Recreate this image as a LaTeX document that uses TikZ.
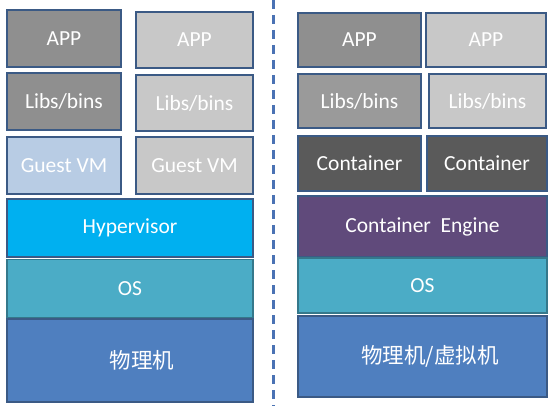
\documentclass[tikz,border=0pt]{standalone}
\usepackage{fontspec}
\setmainfont{Carlito}
\newfontfamily\cjk{Noto Sans CJK SC}
\definecolor{bordc}{HTML}{3B5A85}
\definecolor{appdark}{HTML}{8F8F8F}
\definecolor{applight}{HTML}{C8C8C8}
\definecolor{vmblue}{HTML}{B8CCE4}
\definecolor{contc}{HTML}{5A5A5A}
\definecolor{enginec}{HTML}{604A7B}
\definecolor{hypc}{HTML}{00B0F0}
\definecolor{osc}{HTML}{4BACC6}
\definecolor{hwc}{HTML}{4F7FBF}
\definecolor{dashc}{HTML}{4A72B4}
\tikzset{
  layer/.style={draw=bordc, line width=1.6pt, text=white, inner sep=0pt,
    font=\fontsize{21.5}{24}\selectfont},
  bigl/.style={layer, line width=1.1pt},
}
\begin{document}
\begin{tikzpicture}[x=1pt,y=-1pt]
\useasboundingbox[fill=white] (0,0) rectangle (554,406);
% left stack
\node[layer, fill=appdark, minimum width=114, minimum height=57] (appL1) at (64,38.5) {APP};
\node[layer, fill=applight, minimum width=117, minimum height=56] (appL2) at (194.5,40) {APP};
\node[layer, fill=appdark, minimum width=114, minimum height=57] (libL1) at (64,101.5) {Libs/bins};
\node[layer, fill=applight, minimum width=117, minimum height=56] (libL2) at (194.5,103) {Libs/bins};
\node[layer, fill=vmblue, minimum width=114, minimum height=57] (vmL1) at (64,165.5) {Guest VM};
\node[layer, fill=applight, minimum width=117, minimum height=57] (vmL2) at (194.5,165.5) {Guest VM};
\node[bigl, draw=bordc, fill=hypc, minimum width=246, minimum height=58] (hyp) at (130,228) {Hypervisor};
\node[bigl, draw=osc!70!black, fill=osc, minimum width=246, minimum height=58] (osL) at (130,288.5) {OS};
\node[bigl, draw=bordc, fill=hwc, minimum width=246, minimum height=83] (hwL) at (130,360.5) {\hspace*{24pt}\cjk 物理机};
% divider
\coordinate (dtop) at (273,0);
\coordinate (dbot) at (273,406);
\draw[dashc, line width=3pt, dash pattern=on 9pt off 6pt] (dtop) -- (dbot);
% right stack
\node[layer, fill=appdark, minimum width=123, minimum height=54] (appR1) at (359.5,40) {APP};
\node[layer, fill=applight, minimum width=120, minimum height=54] (appR2) at (486,40) {APP};
\node[layer, fill=appdark!90!white, minimum width=123, minimum height=54] (libR1) at (359.5,101) {Libs/bins};
\node[layer, fill=applight, minimum width=117, minimum height=54] (libR2) at (487.5,101) {Libs/bins};
\node[layer, fill=contc, minimum width=123, minimum height=55] (conR1) at (359.5,163.5) {Container};
\node[layer, fill=contc, minimum width=120, minimum height=55] (conR2) at (487,163.5) {Container};
\node[bigl, fill=enginec, minimum width=249, minimum height=61] (eng) at (422.5,226.5) {Container\ \ Engine};
\node[bigl, draw=osc!70!black, fill=osc, minimum width=249, minimum height=55] (osR) at (422.5,285.5) {OS};
\node[bigl, fill=hwc, minimum width=249, minimum height=81] (hwR) at (422.5,356.5) {\hspace*{15pt}\cjk 物理机/虚拟机};
\end{tikzpicture}
\end{document}
